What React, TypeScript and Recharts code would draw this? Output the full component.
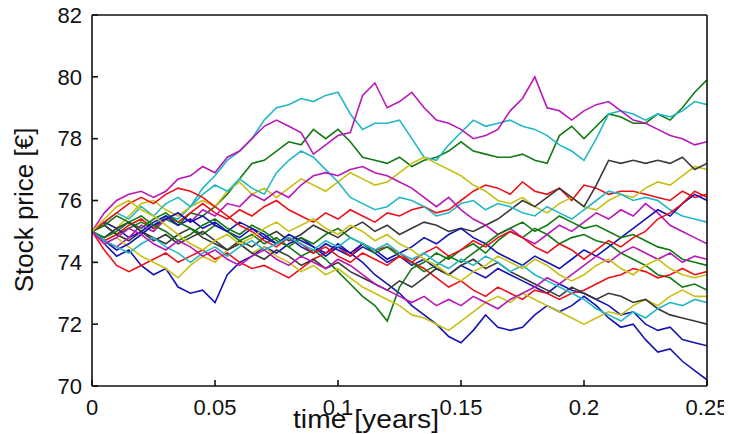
import React from 'react';
import { LineChart, Line, XAxis, YAxis } from 'recharts';

const FONT = '"Liberation Sans", Arial, Helvetica, sans-serif';

const TIMES = [
  0, 0.005, 0.01, 0.015, 0.02, 0.025, 0.03, 0.035, 0.04, 0.045,
  0.05, 0.055, 0.06, 0.065, 0.07, 0.075, 0.08, 0.085, 0.09, 0.095,
  0.1, 0.105, 0.11, 0.115, 0.12, 0.125, 0.13, 0.135, 0.14, 0.145,
  0.15, 0.155, 0.16, 0.165, 0.17, 0.175, 0.18, 0.185, 0.19, 0.195,
  0.2, 0.205, 0.21, 0.215, 0.22, 0.225, 0.23, 0.235, 0.24, 0.245, 0.25,
];

const X_TICKS = [0, 0.05, 0.1, 0.15, 0.2, 0.25];
const Y_TICKS = [70, 72, 74, 76, 78, 80, 82];

const B1 = [75.0, 74.6, 74.2, 74.4, 73.9, 73.6, 73.8, 73.2, 73.0, 73.1, 72.7, 73.6, 74.0, 74.2, 74.5, 74.3, 74.6, 74.8, 74.5, 74.3, 74.6, 74.3, 74.0, 73.6, 73.3, 73.0, 72.6, 72.3, 72.0, 71.6, 71.4, 71.8, 72.3, 71.9, 71.8, 71.9, 72.3, 72.6, 72.4, 72.6, 72.9, 72.6, 72.2, 71.9, 72.0, 71.5, 71.1, 71.2, 70.8, 70.5, 70.2];
const G1 = [75.0, 75.2, 74.9, 75.1, 75.3, 75.1, 75.4, 75.2, 75.6, 75.5, 75.8, 76.2, 76.7, 77.2, 77.3, 77.6, 77.9, 77.8, 78.3, 78.0, 78.3, 77.9, 77.4, 77.3, 77.2, 77.4, 77.1, 77.3, 77.4, 77.6, 77.9, 77.6, 77.5, 77.4, 77.4, 77.5, 77.3, 77.2, 78.1, 78.4, 78.0, 78.4, 78.8, 78.7, 78.5, 78.5, 78.8, 78.6, 79.0, 79.5, 79.9];
const R1 = [75.0, 74.7, 74.9, 75.2, 75.4, 75.1, 75.5, 75.3, 75.6, 75.9, 75.6, 75.4, 75.7, 75.5, 75.8, 76.0, 75.7, 75.5, 75.3, 75.6, 75.4, 75.7, 75.5, 75.3, 75.6, 75.5, 75.7, 75.8, 75.6, 75.7, 76.0, 76.3, 76.5, 76.4, 76.2, 76.6, 76.3, 76.2, 76.4, 76.0, 76.5, 76.4, 76.2, 76.3, 76.3, 76.2, 76.1, 76.0, 76.3, 76.1, 76.2];
const C1 = [75.0, 74.8, 75.1, 75.3, 75.0, 75.2, 75.5, 75.4, 75.8, 76.4, 76.8, 77.3, 77.6, 78.0, 78.6, 79.0, 79.1, 79.3, 79.2, 79.4, 79.5, 78.8, 78.3, 78.5, 78.5, 78.6, 78.0, 77.4, 77.3, 77.8, 78.2, 78.6, 78.4, 78.5, 78.6, 78.4, 78.3, 78.1, 77.8, 77.6, 77.3, 78.0, 78.8, 78.9, 78.8, 78.6, 78.8, 78.7, 78.9, 79.2, 79.1];
const M1 = [75.0, 75.6, 76.0, 76.2, 76.3, 76.1, 76.3, 76.7, 76.8, 77.1, 76.9, 77.4, 77.6, 78.0, 78.4, 78.6, 78.4, 78.2, 77.5, 77.8, 78.1, 78.2, 79.4, 79.8, 79.0, 79.2, 79.5, 79.0, 78.6, 78.5, 78.3, 78.0, 78.1, 78.3, 78.9, 79.3, 80.0, 79.0, 78.9, 78.6, 78.9, 79.1, 79.2, 78.9, 78.6, 78.5, 78.3, 78.1, 78.0, 77.8, 77.9];
const Y1 = [75.0, 75.3, 75.1, 75.5, 75.9, 76.0, 75.7, 75.5, 75.8, 76.0, 75.8, 76.3, 76.6, 76.2, 76.4, 76.1, 76.4, 76.7, 76.5, 76.3, 76.6, 76.9, 76.7, 76.5, 76.6, 76.9, 77.2, 77.4, 77.2, 77.0, 76.8, 76.5, 76.3, 76.0, 75.9, 76.1, 75.8, 75.6, 75.9, 76.1, 75.8, 75.7, 76.0, 76.2, 76.1, 76.4, 76.6, 76.5, 76.8, 77.1, 77.0];
const K1 = [75.0, 75.2, 74.9, 74.7, 75.0, 74.8, 74.6, 74.9, 75.1, 74.8, 74.6, 74.4, 74.7, 74.5, 74.8, 75.0, 74.7, 74.9, 75.2, 75.0, 74.8, 75.1, 75.3, 75.0, 75.2, 74.9, 75.1, 75.3, 75.2, 75.0, 75.1, 75.0, 75.2, 75.4, 75.7, 76.0, 75.8, 76.1, 76.4, 76.1, 75.8, 76.5, 77.3, 77.2, 77.3, 77.2, 77.3, 77.2, 77.4, 77.0, 77.2];
const B2 = [75.0, 75.3, 75.1, 74.8, 75.0, 75.3, 75.5, 75.2, 75.4, 75.1, 75.3, 75.0, 74.8, 75.1, 74.9, 74.6, 74.8, 74.5, 74.3, 74.6, 74.4, 74.2, 74.5, 74.3, 74.0, 74.2, 73.9, 74.1, 73.8, 73.6, 73.9, 73.7, 73.5, 73.8, 73.6, 73.4, 73.2, 73.0, 73.3, 73.1, 73.0, 72.8, 72.6, 72.3, 72.4, 72.0, 71.8, 71.9, 71.5, 71.4, 71.3];
const G2 = [75.0, 75.2, 75.5, 75.3, 75.1, 75.4, 75.6, 75.3, 75.1, 74.9, 75.2, 75.0, 74.7, 74.9, 74.6, 74.8, 74.5, 74.2, 74.4, 74.1, 73.7, 73.3, 72.9, 72.6, 72.1, 73.2, 73.8, 74.0, 74.3, 74.1, 74.4, 74.6, 74.3, 74.7, 75.0, 74.8, 75.1, 74.9, 74.6, 74.8, 74.9, 74.7, 74.6, 74.3, 74.1, 73.9, 73.6, 73.5, 73.2, 73.3, 73.1];
const R2 = [75.0, 74.4, 73.9, 73.7, 73.9, 74.1, 74.3, 74.0, 74.2, 74.4, 74.1, 74.3, 74.0, 73.8, 73.9, 73.7, 73.5, 73.8, 74.1, 74.3, 74.5, 74.2, 74.6, 74.4, 74.5, 74.3, 74.0, 73.8, 73.5, 73.2, 73.4, 73.1, 72.9, 73.2, 73.0, 72.8, 73.1, 73.0, 72.8, 73.0, 73.1, 73.3, 73.5, 73.6, 73.8, 73.7, 73.5, 73.6, 73.8, 73.6, 73.7];
const C2 = [75.0, 75.3, 75.6, 75.4, 75.8, 75.5, 75.9, 76.1, 75.8, 76.2, 76.5, 76.3, 76.7, 76.4, 76.2, 76.9, 77.3, 77.6, 77.4, 77.0, 76.6, 76.1, 75.9, 75.7, 75.8, 76.1, 76.0, 75.8, 75.5, 75.6, 75.9, 76.0, 75.7, 75.9, 75.8, 75.6, 75.5, 75.8, 75.6, 75.4, 75.7, 76.0, 76.3, 76.2, 76.0, 76.1, 76.0, 75.7, 75.5, 75.4, 75.3];
const M2 = [75.0, 74.7, 74.5, 74.8, 75.2, 75.0, 75.4, 75.6, 75.3, 75.7, 75.5, 75.9, 75.8, 76.2, 76.0, 76.3, 76.1, 76.5, 76.8, 76.9, 76.8, 77.0, 77.1, 76.9, 76.8, 76.6, 76.4, 76.1, 75.8, 76.1, 75.7, 75.4, 75.2, 74.9, 75.1, 74.8, 74.6, 74.9, 75.2, 75.0, 75.3, 75.6, 75.4, 75.7, 75.5, 75.9, 75.6, 75.2, 75.0, 74.8, 74.6];
const Y2 = [75.0, 74.6, 74.8, 74.5, 74.2, 74.0, 73.8, 73.5, 73.9, 74.2, 74.0, 74.4, 74.6, 74.3, 74.5, 74.2, 74.0, 73.7, 73.9, 73.6, 73.8, 73.5, 73.2, 73.0, 72.8, 72.6, 72.3, 72.2, 72.0, 71.8, 72.1, 72.4, 72.7, 72.9, 72.7, 73.0, 72.8, 72.6, 72.4, 72.2, 72.0, 72.2, 72.4, 72.3, 72.6, 72.8, 72.6, 72.9, 73.1, 72.9, 72.9];
const K2 = [75.0, 74.8, 75.1, 75.3, 75.0, 74.7, 74.9, 74.6, 74.8, 75.0, 74.7, 74.4, 74.6, 74.3, 74.1, 74.4, 74.2, 73.9, 74.1, 73.8, 74.0, 73.7, 73.5, 73.3, 73.1, 73.4, 73.2, 73.5, 73.8, 73.6, 73.9, 74.1, 73.8, 74.0, 73.7, 73.5, 73.3, 73.1, 72.9, 73.2, 73.0, 72.8, 73.0, 72.9, 72.7, 72.8, 72.5, 72.3, 72.2, 72.1, 72.0];
const B3 = [75.0, 74.7, 74.4, 74.6, 74.9, 75.2, 75.4, 75.6, 75.3, 75.5, 75.2, 75.0, 75.3, 75.1, 74.8, 74.6, 74.9, 74.7, 74.5, 74.2, 74.5, 74.3, 74.6, 74.4, 74.1, 74.3, 74.5, 74.8, 74.6, 74.9, 75.1, 74.8, 74.6, 74.3, 74.1, 73.9, 74.2, 74.0, 73.8, 74.1, 74.4, 74.2, 74.5, 74.8, 75.1, 75.4, 75.7, 75.5, 75.9, 76.2, 76.0];
const G3 = [75.0, 74.8, 75.0, 75.3, 75.5, 75.2, 75.0, 74.7, 74.9, 75.2, 75.4, 75.1, 74.9, 75.2, 75.0, 74.7, 74.5, 74.8, 74.6, 74.9, 75.1, 74.8, 74.6, 74.3, 74.5, 74.2, 74.0, 73.7, 73.9, 74.2, 74.0, 74.3, 74.6, 74.9, 75.1, 75.3, 75.0, 75.2, 75.5, 75.3, 75.1, 75.2, 75.0, 74.8, 74.9, 74.7, 74.5, 74.4, 74.1, 74.0, 73.9];
const R3 = [75.0, 75.3, 75.6, 75.9, 76.1, 75.9, 76.2, 76.4, 76.3, 76.1, 75.8, 75.5, 75.2, 75.0, 74.7, 74.5, 74.8, 74.6, 74.3, 74.5, 74.2, 74.0, 74.3, 74.1, 73.9, 74.2, 74.0, 74.3, 74.5, 74.2, 74.4, 74.7, 74.5, 74.8, 75.0, 74.8, 74.5, 74.3, 74.6, 74.4, 74.1, 74.4, 74.7, 74.5, 74.8, 75.0, 75.4, 75.6, 75.9, 76.3, 76.1];
const C3 = [75.0, 74.7, 74.5, 74.3, 74.6, 74.8, 74.5, 74.3, 74.0, 74.3, 74.5, 74.2, 74.5, 74.7, 74.4, 74.6, 74.8, 74.6, 74.4, 74.7, 74.5, 74.8, 74.6, 74.4, 74.6, 74.3, 74.1, 74.3, 74.0, 73.8, 74.1, 73.9, 74.2, 74.0, 73.7, 73.9, 73.6, 73.4, 73.2, 73.0, 72.8, 72.5, 72.3, 72.1, 72.4, 72.2, 72.5, 72.7, 72.6, 72.8, 72.7];
const M3 = [75.0, 74.6, 74.8, 75.1, 74.9, 74.6, 74.4, 74.7, 74.5, 74.2, 74.4, 74.1, 73.9, 74.2, 74.4, 74.1, 73.9, 74.2, 74.0, 73.8, 74.1, 73.9, 73.6, 73.3, 73.1, 72.9, 72.7, 72.9, 72.6, 72.8, 72.6, 72.9, 72.7, 72.5, 72.8, 73.0, 73.2, 73.5, 73.3, 73.6, 73.9, 74.2, 74.0, 74.3, 74.5, 74.3, 74.1, 74.3, 74.0, 74.2, 74.1];
const Y3 = [75.0, 75.4, 75.8, 76.0, 75.7, 75.5, 75.2, 74.9, 74.6, 74.4, 74.7, 74.9, 74.6, 74.8, 75.1, 75.3, 75.0, 75.2, 75.4, 75.1, 74.9, 75.2, 75.0, 74.7, 74.9, 74.6, 74.4, 74.1, 73.9, 73.6, 73.4, 73.7, 73.9, 74.2, 74.0, 73.8, 74.1, 73.9, 73.6, 73.4, 73.6, 73.9, 74.1, 73.8, 73.6, 73.9, 74.1, 73.8, 73.6, 73.5, 73.6];

const BLUE = '#1414b4';
const GREEN = '#137a13';
const RED = '#ec1018';
const CYAN = '#22b8c4';
const MAGENTA = '#b818b8';
const YELLOW = '#c8c014';
const GRAY = '#383838';

const SERIES = [
  { key: 'b1', values: B1, color: BLUE },
  { key: 'g1', values: G1, color: GREEN },
  { key: 'r1', values: R1, color: RED },
  { key: 'c1', values: C1, color: CYAN },
  { key: 'm1', values: M1, color: MAGENTA },
  { key: 'y1', values: Y1, color: YELLOW },
  { key: 'k1', values: K1, color: GRAY },
  { key: 'b2', values: B2, color: BLUE },
  { key: 'g2', values: G2, color: GREEN },
  { key: 'r2', values: R2, color: RED },
  { key: 'c2', values: C2, color: CYAN },
  { key: 'm2', values: M2, color: MAGENTA },
  { key: 'y2', values: Y2, color: YELLOW },
  { key: 'k2', values: K2, color: GRAY },
  { key: 'b3', values: B3, color: BLUE },
  { key: 'g3', values: G3, color: GREEN },
  { key: 'r3', values: R3, color: RED },
  { key: 'c3', values: C3, color: CYAN },
  { key: 'm3', values: M3, color: MAGENTA },
  { key: 'y3', values: Y3, color: YELLOW },
];

const rows = TIMES.map((t, i) => {
  const row: Record<string, number> = { t };
  SERIES.forEach((s) => {
    row[s.key] = s.values[i];
  });
  return row;
});

const AXIS_STROKE = { stroke: '#111', strokeWidth: 1.6 };

const XLabel = (props: any) => {
  const vb = props.viewBox || { x: 84, y: 378, width: 615, height: 48 };
  const cx = vb.x + vb.width / 2 - 33.5;
  return (
    <text
      x={cx}
      y={vb.y + 42}
      textAnchor="middle"
      fontFamily={FONT}
      fontSize={25}
      fill="#111"
      textLength={146}
      lengthAdjust="spacingAndGlyphs"
    >
      time [years]
    </text>
  );
};

const YLabel = (props: any) => {
  const vb = props.viewBox || { x: 0, y: 7, width: 84, height: 371 };
  const cx = vb.x + 15.5;
  const cy = vb.y + vb.height / 2 + 9.5;
  return (
    <text
      x={cx}
      y={cy}
      transform={`rotate(-90 ${cx} ${cy})`}
      textAnchor="middle"
      dominantBaseline="central"
      fontFamily={FONT}
      fontSize={26}
      fill="#111"
    >
      Stock price [€]
    </text>
  );
};

export default function App() {
  return (
    <div style={{ width: 724, height: 426, background: '#fff' }}>
      <LineChart
        width={724}
        height={426}
        data={rows}
        margin={{ top: 6, right: 24, bottom: 0, left: 0 }}
      >
        <XAxis
          xAxisId="bottom"
          orientation="bottom"
          dataKey="t"
          type="number"
          domain={[0, 0.25]}
          ticks={X_TICKS}
          interval={0}
          height={48}
          tickSize={-6}
          tickMargin={19}
          axisLine={AXIS_STROKE}
          tickLine={AXIS_STROKE}
          tick={{ fill: '#111', fontSize: 22, fontFamily: FONT }}
          allowDataOverflow
          label={XLabel}
        />
        <XAxis
          xAxisId="top"
          orientation="top"
          dataKey="t"
          type="number"
          domain={[0, 0.25]}
          ticks={X_TICKS}
          interval={0}
          height={1}
          tickSize={-6}
          tick={false}
          axisLine={AXIS_STROKE}
          tickLine={AXIS_STROKE}
          allowDataOverflow
        />
        <YAxis
          yAxisId="left"
          orientation="left"
          type="number"
          domain={[70, 82]}
          ticks={Y_TICKS}
          interval={0}
          width={84}
          tickSize={-6}
          tickMargin={16}
          axisLine={AXIS_STROKE}
          tickLine={AXIS_STROKE}
          tick={{ fill: '#111', fontSize: 22, fontFamily: FONT }}
          allowDataOverflow
          label={YLabel}
        />
        <YAxis
          yAxisId="right"
          orientation="right"
          type="number"
          domain={[70, 82]}
          ticks={Y_TICKS}
          interval={0}
          width={1}
          tickSize={-6}
          tick={false}
          axisLine={AXIS_STROKE}
          tickLine={AXIS_STROKE}
          allowDataOverflow
        />
        {SERIES.map((s) => (
          <Line
            key={s.key}
            xAxisId="bottom"
            yAxisId="left"
            dataKey={s.key}
            type="linear"
            stroke={s.color}
            strokeWidth={1.6}
            dot={false}
            activeDot={false}
            isAnimationActive={false}
          />
        ))}
      </LineChart>
    </div>
  );
}
